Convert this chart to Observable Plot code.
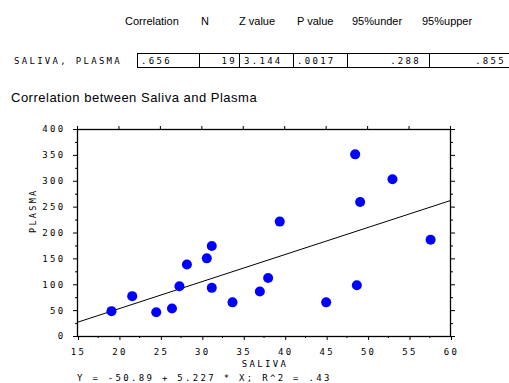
<!DOCTYPE html>
<html>
<head>
<meta charset="utf-8">
<script src="https://cdn.jsdelivr.net/npm/d3@7"></script>
<script src="https://cdn.jsdelivr.net/npm/@observablehq/plot@0.6"></script>
<style>
  body { margin: 0; background: #fff; }
  #wrap { position: relative; width: 509px; height: 383px; overflow: hidden; font-family: "Liberation Sans", Arial, sans-serif; color: #000; }
  .hdr { position: absolute; font-size: 11px; line-height: 12px; white-space: pre; }
  .mono { position: absolute; font-family: "DejaVu Sans Mono", monospace; font-size: 9px; letter-spacing: 2.3px; line-height: 10px; white-space: pre; }
  .cell { position: absolute; top: 53px; height: 15px; border: 1px solid #000; box-sizing: border-box; }
  #chart { position: absolute; left: 0; top: 110px; }
</style>
</head>
<body>
<div id="wrap"></div>
<script>
// ---- data ----
const headers = ["Correlation", "N", "Z value", "P value", "95%under", "95%upper"];
const rowLabel = "SALIVA, PLASMA";
const rowValues = [".656", "19", "3.144", ".0017", ".288", ".855"];
const title = "Correlation between Saliva and Plasma";
const saliva = [19.1, 21.6, 24.5, 26.4, 27.3, 28.2, 30.6, 31.2, 31.2, 33.7, 37.0, 38.0, 39.4, 45.0, 48.5, 48.7, 49.1, 53.0, 57.6];
const plasma = [49, 78, 47, 54, 97, 139, 151, 175, 94, 66, 87, 113, 222, 66, 352, 99, 260, 304, 187];
const intercept = -50.89;
const slope = 5.227;
const equation = "Y = -50.89 + 5.227 * X; R^2 = .43";
const xMajor = [15, 20, 25, 30, 35, 40, 45, 50, 55, 60];
const xMinor = [17.5, 22.5, 27.5, 32.5, 37.5, 42.5, 47.5, 52.5, 57.5];
const yMajor = [0, 50, 100, 150, 200, 250, 300, 350, 400];
const yMinor = [25, 75, 125, 175, 225, 275, 325, 375];
const xLabel = "SALIVA";
const yLabel = "PLASMA";

// ---- layout ----
const wrap = document.getElementById("wrap");
function add(cls, text, left, top, extra) {
  const d = document.createElement("div");
  d.className = cls;
  d.textContent = text;
  d.style.left = left + "px";
  d.style.top = top + "px";
  if (extra) Object.assign(d.style, extra);
  wrap.appendChild(d);
  return d;
}
const hdrX = [125, 201, 239, 297, 352, 422];
headers.forEach((h, i) => add("hdr", h, hdrX[i], 15));
add("mono", rowLabel, 14, 56);
const cellEdges = [137, 199, 239, 293, 347, 429, 512];
const cellAlign = ["left", "right", "left", "left", "right", "right"];
const cellPad = [3, 4, 4, 3, 10, 8];
rowValues.forEach((v, i) => {
  const c = document.createElement("div");
  c.className = "cell";
  c.style.left = cellEdges[i] + "px";
  c.style.width = (cellEdges[i + 1] - cellEdges[i] + 1) + "px";
  wrap.appendChild(c);
  const t = document.createElement("div");
  t.className = "mono";
  t.textContent = v;
  t.style.top = "2px";
  if (cellAlign[i] === "left") t.style.left = cellPad[i] + "px";
  else t.style.right = (cellPad[i] - 2) + "px";
  c.appendChild(t);
});
add("hdr", title, 11, 91, {fontSize: "13px", letterSpacing: "0.5px", lineHeight: "14px"});
add("mono", equation, 77, 373);

const points = saliva.map((s, i) => ({saliva: s, plasma: plasma[i]}));
const xDomain = [15, 60];
const regLine = xDomain.map(x => ({x, y: intercept + slope * x}));

const chart = Plot.plot({
  width: 509,
  height: 273,
  marginLeft: 77,
  marginRight: 59,
  marginTop: 19,
  marginBottom: 47,
  x: {domain: xDomain},
  y: {domain: [0, 400]},
  style: {fontFamily: "DejaVu Sans Mono", fontSize: "9px", letterSpacing: "2.3px", color: "#000", background: "transparent", overflow: "visible"},
  marks: [
    Plot.line(regLine, {x: "x", y: "y", stroke: "#000", strokeWidth: 1}),
    Plot.dot(points, {x: "saliva", y: "plasma", r: 5, fill: "#0000ff"}),
    Plot.frame({stroke: "#000", strokeWidth: 1.3}),
    Plot.axisY(yMajor, {anchor: "left", tickSize: 4, tickPadding: 8, label: null}),
    Plot.axisY(yMinor, {anchor: "left", tickSize: 2, text: null, label: null}),
    Plot.axisY(yMajor, {anchor: "right", tickSize: 4, text: null, label: null}),
    Plot.axisY(yMinor, {anchor: "right", tickSize: 2, text: null, label: null}),
    Plot.axisX(xMajor, {anchor: "bottom", tickSize: 4, tickPadding: 8, dx: 1, label: null}),
    Plot.axisX(xMinor, {anchor: "bottom", tickSize: 2, text: null, label: null}),
    Plot.axisX(xMajor, {anchor: "top", tickSize: 4, text: null, label: null}),
    Plot.text([xLabel], {frameAnchor: "bottom", dy: 28, dx: 1, lineAnchor: "middle"}),
    Plot.text([yLabel], {frameAnchor: "left", dx: -44, rotate: -90, lineAnchor: "middle", fontSize: 8.5, letterSpacing: "1px"})
  ]
});
chart.id = "chart";
wrap.appendChild(chart);
</script>
</body>
</html>
